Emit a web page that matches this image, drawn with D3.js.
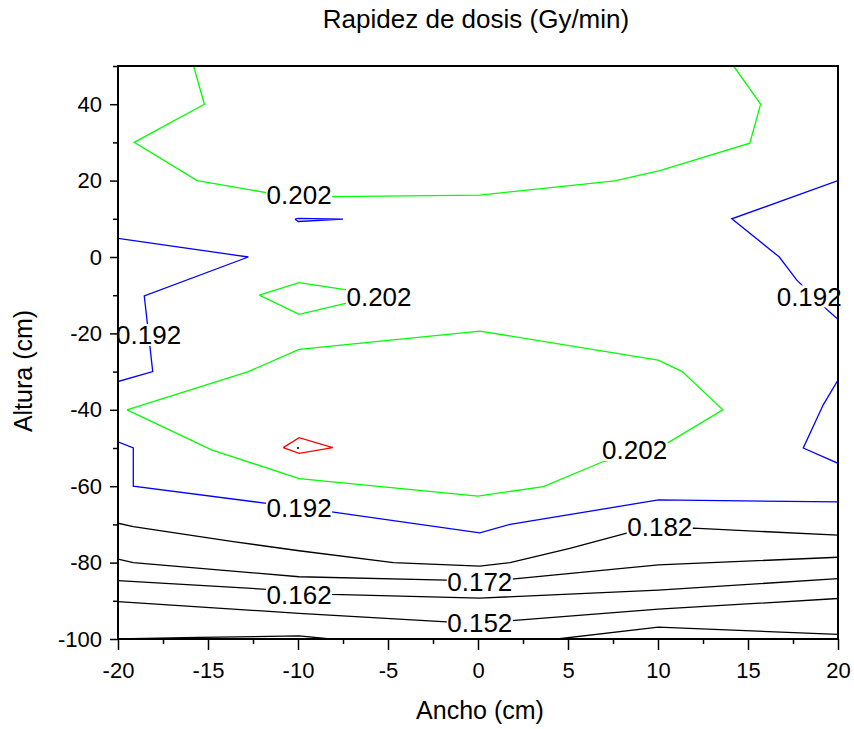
<!DOCTYPE html>
<html>
<head>
<meta charset="utf-8">
<script src="https://cdn.jsdelivr.net/npm/d3@7"></script>
<style>
  body { margin: 0; background: #fff; }
  svg { display: block; font-family: "Liberation Sans", Arial, sans-serif; }
  .axis text { font-size: 22px; fill: #000; }
  .axis line { stroke: #000; stroke-width: 1.5; }
  .axis path { display: none; }
</style>
</head>
<body>
<svg id="chart" width="854" height="729"></svg>
<script>
// Tick values
var xTicks = [-20, -15, -10, -5, 0, 5, 10, 15, 20];
var xMinor = d3.range(-17.5, 20, 5);
var yTicks = [40, 20, 0, -20, -40, -60, -80, -100];
var yMinor = [50, 30, 10, -10, -30, -50, -70, -90];

// Contour paths [ancho, altura]
var top202 = [[-15.8, 50], [-15.2, 40], [-19.1, 30], [-15.6, 20], [-11.7, 16.8], [-8.1, 15.8],
  [0.1, 16.2], [7.6, 19.9], [10.1, 22.6], [15.1, 29.8], [15.7, 40], [14.2, 50]];
var loop202 = [[-12.15, -10], [-9.94, -6.7], [-7.3, -8.6], [-5.8, -10], [-7.3, -12.1], [-9.94, -15], [-12.15, -10]];
var mid202 = [[-19.5, -40], [-12.76, -30], [-9.94, -24.2], [0.1, -19.4], [10.0, -27], [11.35, -30], [13.6, -40],
  [10.57, -48.6], [6.93, -53.6], [3.63, -60.1], [0, -62.6], [-9.94, -58], [-14.8, -50.5], [-19.5, -40]];
var peak212 = [[-10.82, -49.9], [-9.94, -47.3], [-8.07, -49.9], [-9.94, -51.4], [-10.82, -49.9]];
var sliver192 = [[-10.17, 9.9], [-9.98, 9.3], [-7.5, 9.9], [-9.98, 10.1], [-10.17, 9.9]];
var leftTop192 = [[-20, 4.9], [-12.76, 0], [-18.54, -10.2], [-18.07, -30], [-20, -32.6]];
var leftLow192 = [[-20, -48.4], [-19.15, -50], [-19.15, -60], [-11.74, -64.5], [-8.13, -66.7],
  [0.1, -72.2], [1.78, -70], [10.02, -63.6], [20, -64.1]];
var rightTop192 = [[20, 20], [14.1, 10], [16.74, 0], [17.7, -6], [19.46, -14.1], [20, -16.3]];
var rightLow192 = [[20, -32.2], [19.18, -38.7], [18.07, -50], [20, -54]];
var line182 = [[-20, -69.7], [-19.15, -70.6], [-13.6, -74.5], [-9.94, -76.9], [-4.7, -80], [0.1, -80.9],
  [1.78, -80], [5.1, -76.3], [8.26, -72.3], [11.96, -71], [20, -72.8]];
var line172 = [[-20, -79.1], [-19.15, -80], [-9.94, -83.7], [-1.74, -84.6], [1.87, -84.3], [10.02, -80.6], [20, -78.6]];
var line162 = [[-20, -84.7], [-11.74, -87], [-8.13, -88.3], [0.1, -89.3], [10.02, -87.2], [20, -84.2]];
var line152 = [[-20, -90.2], [-9.94, -93.3], [-1.74, -95.5], [1.87, -95.2], [10.02, -92.2], [20, -89.4]];
var line142 = [[-20, -100], [-15.5, -99.6], [-9.94, -99.2], [-8.2, -100], [4.4, -100], [10.02, -96.9], [20, -98.8]];
var maxPoint = [[-10, -50]];

// Contour labels: text and position
var labelText = ["0.202", "0.202", "0.192", "0.192", "0.202", "0.192", "0.182", "0.172", "0.162", "0.152"];
var labelPos = [[-9.94, 16.4], [-5.5, -10.4], [-18.3, -20.4], [18.4, -10.3], [8.7, -50.5],
  [-9.94, -65.7], [10.1, -70.6], [0.1, -85.0], [-9.94, -88.3], [0.1, -95.7]];

var contours = [
  { level: 0.202, pts: top202 }, { level: 0.202, pts: loop202 }, { level: 0.202, pts: mid202 },
  { level: 0.212, pts: peak212 }, { level: 0.192, pts: sliver192 }, { level: 0.192, pts: leftTop192 },
  { level: 0.192, pts: leftLow192 }, { level: 0.192, pts: rightTop192 }, { level: 0.192, pts: rightLow192 },
  { level: 0.182, pts: line182 }, { level: 0.172, pts: line172 }, { level: 0.162, pts: line162 },
  { level: 0.152, pts: line152 }, { level: 0.142, pts: line142 }
];

function levelColor(v) {
  if (v >= 0.21) return "#ff0000";
  if (v >= 0.2) return "#00ff00";
  if (v >= 0.19) return "#0000ff";
  return "#000000";
}

var svg = d3.select("#chart");
var plotL = 118, plotR = 838, plotT = 66, plotB = 639;

var x = d3.scaleLinear().domain([-20, 20]).range([plotL, plotR]);
var y = d3.scaleLinear().domain([-100, 50]).range([plotB, plotT]);

svg.append("clipPath").attr("id", "plot")
  .append("rect").attr("x", plotL).attr("y", plotT)
  .attr("width", plotR - plotL).attr("height", plotB - plotT);

var line = d3.line().x(function(d) { return x(d[0]); }).y(function(d) { return y(d[1]); });

// Contour lines
svg.append("g").attr("clip-path", "url(#plot)")
  .selectAll("path")
  .data(contours)
  .enter().append("path")
    .attr("d", function(d) { return line(d.pts); })
    .attr("fill", "none")
    .attr("stroke", function(d) { return levelColor(d.level); })
    .attr("stroke-width", 1.3);

svg.selectAll(".dot")
  .data(maxPoint)
  .enter().append("circle")
    .attr("class", "dot")
    .attr("cx", function(d) { return x(d[0]); })
    .attr("cy", function(d) { return y(d[1]); })
    .attr("r", 1)
    .attr("fill", "#000");

// Contour labels with white gap behind them
var labels = svg.append("g").selectAll("g")
  .data(labelText)
  .enter().append("g")
    .attr("transform", function(d, i) { return "translate(" + x(labelPos[i][0]) + "," + y(labelPos[i][1]) + ")"; });

labels.append("rect")
  .attr("x", -33).attr("y", -11).attr("width", 66).attr("height", 22)
  .attr("fill", "#fff");

labels.append("text")
  .attr("text-anchor", "middle")
  .attr("dy", "0.36em")
  .attr("font-size", 26)
  .text(function(d) { return d; });

var plain = function(d) { return String(d); };

// Axes
svg.append("g")
  .attr("class", "axis")
  .attr("transform", "translate(0," + plotB + ")")
  .call(d3.axisBottom(x).tickValues(xTicks).tickSize(11).tickPadding(12).tickFormat(plain));

svg.append("g")
  .attr("class", "axis")
  .attr("transform", "translate(0," + plotB + ")")
  .call(d3.axisBottom(x).tickValues(xMinor).tickSize(5).tickFormat(""));

svg.append("g")
  .attr("class", "axis")
  .attr("transform", "translate(" + plotL + ",0)")
  .call(d3.axisLeft(y).tickValues(yTicks).tickSize(8).tickPadding(8).tickFormat(plain));

svg.append("g")
  .attr("class", "axis")
  .attr("transform", "translate(" + plotL + ",0)")
  .call(d3.axisLeft(y).tickValues(yMinor).tickSize(5).tickFormat(""));

// Frame
svg.append("rect")
  .attr("x", plotL).attr("y", plotT)
  .attr("width", plotR - plotL).attr("height", plotB - plotT)
  .attr("fill", "none")
  .attr("stroke", "#000")
  .attr("stroke-width", 2);

// Titles
svg.append("text")
  .attr("x", 476).attr("y", 28)
  .attr("text-anchor", "middle")
  .attr("font-size", 26)
  .text("Rapidez de dosis (Gy/min)");

svg.append("text")
  .attr("x", 480).attr("y", 719)
  .attr("text-anchor", "middle")
  .attr("font-size", 25)
  .text("Ancho (cm)");

svg.append("text")
  .attr("transform", "translate(32,371) rotate(-90)")
  .attr("text-anchor", "middle")
  .attr("font-size", 25)
  .text("Altura (cm)");
</script>
</body>
</html>
